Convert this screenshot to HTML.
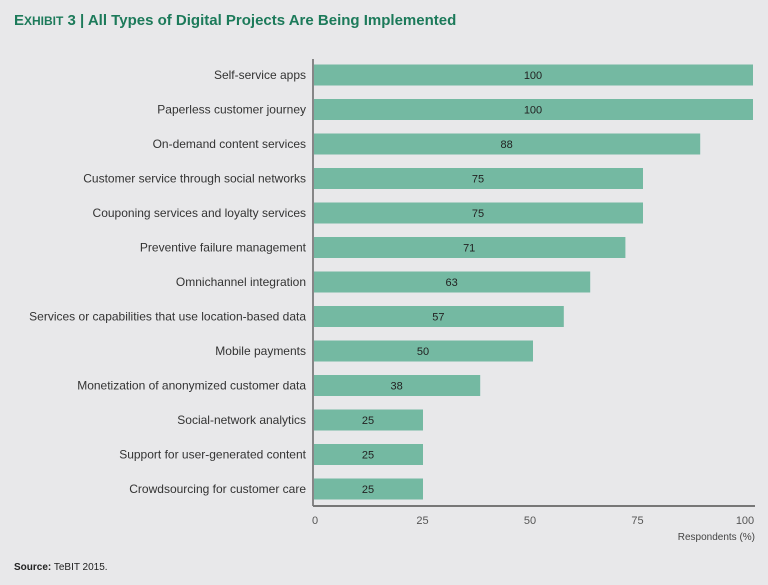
<!DOCTYPE html>
<html><head><meta charset="utf-8"><style>
body{margin:0;background:#e8e8ea;font-family:"Liberation Sans",sans-serif;}
#c{position:relative;width:768px;height:585px;overflow:hidden;background:#e8e8ea;}
</style></head><body>
<div id="c">
<svg width="768" height="585">
<text x="14" y="25" fill="#1c7a5a" font-size="15" font-weight="bold">E<tspan font-size="12">XHIBIT</tspan> 3 | All Types of Digital Projects Are Being Implemented</text>
<g id="bars"></g>
<line x1="313" y1="59" x2="313" y2="506" stroke="#666" stroke-width="1.5"/>
<line x1="313" y1="506" x2="755" y2="506" stroke="#777" stroke-width="2"/>
<g id="ticks"></g>
<text x="755" y="540" text-anchor="end" font-size="10" fill="#444">Respondents (%)</text>
<text x="14" y="570" font-size="10" fill="#222"><tspan font-weight="bold">Source:</tspan> TeBIT 2015.</text>
</svg>
</div>
<script>
const categories=["Self-service apps","Paperless customer journey","On-demand content services","Customer service through social networks","Couponing services and loyalty services","Preventive failure management","Omnichannel integration","Services or capabilities that use location-based data","Mobile payments","Monetization of anonymized customer data","Social-network analytics","Support for user-generated content","Crowdsourcing for customer care"];
const values=[100,100,88,75,75,71,63,57,50,38,25,25,25];
const tickValues=[0,25,50,75,100];
const ns="http://www.w3.org/2000/svg";
const x0=313,k=4.4;
function xs(v){return x0+v*k;}
function xt(v){return x0+2+v*4.3;}
function ys(i){return 75+i*34.5;}
const g=document.getElementById('bars');
categories.forEach((c,i)=>{
 const y=ys(i);
 const t=document.createElementNS(ns,'text');
 
 
 t.setAttribute('x',306);t.setAttribute('y',y+4);t.setAttribute('text-anchor','end');
 t.setAttribute('font-size','12');t.setAttribute('fill','#333');t.textContent=c;g.appendChild(t);
 const r=document.createElementNS(ns,'rect');
 
 
 r.setAttribute('x',x0+1);r.setAttribute('y',y-10.5);r.setAttribute('width',xs(values[i])-x0-1);r.setAttribute('height',21);
 r.setAttribute('fill','#74b9a2');g.appendChild(r);
 const v=document.createElementNS(ns,'text');
 
 
 v.setAttribute('x',(x0+xs(values[i]))/2);v.setAttribute('y',y+4);v.setAttribute('text-anchor','middle');
 v.setAttribute('font-size','11');v.setAttribute('fill','#222');v.textContent=values[i];g.appendChild(v);
});
const tg=document.getElementById('ticks');
tickValues.forEach(tv=>{
 const t=document.createElementNS(ns,'text');
 
 
 t.setAttribute('x',xt(tv));t.setAttribute('y',524);t.setAttribute('text-anchor','middle');
 t.setAttribute('font-size','11');t.setAttribute('fill','#555');t.textContent=tv;tg.appendChild(t);
});
</script>
</body></html>
